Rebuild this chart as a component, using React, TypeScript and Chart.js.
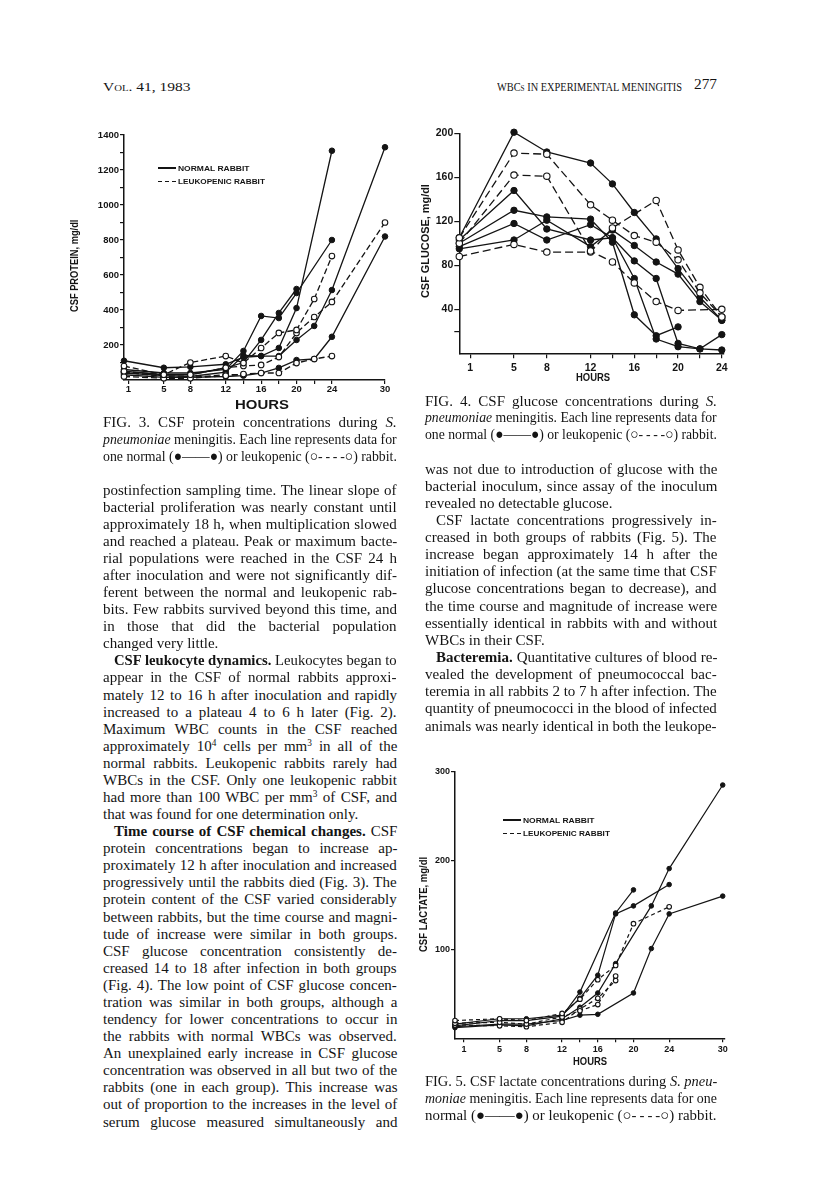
import React, { useEffect, useLayoutEffect, useRef, useState } from 'react';
import { Chart, registerables } from 'chart.js';

Chart.register(...registerables);

const INK = '#141414';
const SERIF = '"Liberation Serif", "Times New Roman", serif';
const SANS = '"Liberation Sans", Arial, sans-serif';

// ---------------- FIG. 3 : CSF protein (mg/dl) ----------------
const PROTEIN_HOURS = [0.5, 5, 8, 12, 14, 16, 18, 20, 22, 24, 30];
const PROTEIN_NORMAL_1 = [110, 70, 75, 90, 130, 137, 183, 411, null, 1310, null];
const PROTEIN_NORMAL_2 = [60, 40, 40, 60, 166, 366, 354, 497, null, 800, null];
const PROTEIN_NORMAL_3 = [50, 30, 30, 70, 100, 229, 383, 520, null, null, null];
const PROTEIN_NORMAL_4 = [40, 25, 20, 45, 140, 137, 137, 229, 309, 514, 1330];
const PROTEIN_NORMAL_5 = [30, 15, 15, 20, 25, 40, 69, 114, 120, 247, 820];
const PROTEIN_LEUKO_1 = [80, 30, 100, 137, 97, 183, 269, 286, 463, 708, null];
const PROTEIN_LEUKO_2 = [50, 30, 30, 70, 80, 86, 131, 269, 360, 446, 900];
const PROTEIN_LEUKO_3 = [20, 10, 10, 25, 34, 40, 40, 97, 120, 137, null];
const PROTEIN_LEUKO_4 = [45, 20, 15, 30, 30, null, null, null, null, null, null];
const PROTEIN_X_TICKS = [1, 5, 8, 12, 14, 16, 18, 20, 22, 24, 30];
const PROTEIN_X_LABELS = [1, 5, 8, 12, 16, 20, 24, 30];
const PROTEIN_Y_TICKS = [100, 200, 300, 400, 500, 600, 700, 800, 900, 1000, 1100, 1200, 1300, 1400];
const PROTEIN_Y_LABELS = [200, 400, 600, 800, 1000, 1200, 1400];

// ---------------- FIG. 4 : CSF glucose (mg/dl) ----------------
const GLUCOSE_HOURS = [0, 5, 8, 12, 14, 16, 18, 20, 22, 24];
const GLUCOSE_NORMAL_1 = [105, 201, 183, 173, 154, 128, 104, 77, 51, 30];
const GLUCOSE_NORMAL_2 = [103, 148, 113, 103, 105, 84, 68, 9, 4, 17];
const GLUCOSE_NORMAL_3 = [100, 130, 124, 122, 101, 35, 16, 24, null, null];
const GLUCOSE_NORMAL_4 = [97, 118, 103, 117, 105, 68, 13, 6, 4, 3];
const GLUCOSE_NORMAL_5 = [95, 103, 121, 97, 112, 98, 83, 72, 47, 30];
const GLUCOSE_LEUKO_1 = [105, 182, 181, 135, 121, 107, 101, 85, 55, 33];
const GLUCOSE_LEUKO_2 = [100, 162, 161, 93, 83, 64, 47, 39, null, 40];
const GLUCOSE_LEUKO_3 = [88, 99, 92, 92, 114, null, 139, 94, 60, 33];
const GLUCOSE_X_TICKS = [1, 5, 8, 12, 14, 16, 18, 20, 22, 24];
const GLUCOSE_X_LABELS = [1, 5, 8, 12, 16, 20, 24];
const GLUCOSE_Y_TICKS = [20, 40, 80, 120, 160, 200];
const GLUCOSE_Y_LABELS = [40, 80, 120, 160, 200];

// ---------------- FIG. 5 : CSF lactate (mg/dl) ----------------
const LACTATE_HOURS = [0, 5, 8, 12, 14, 16, 18, 20, 22, 24, 30];
const LACTATE_NORMAL_1 = [14, 20, 20, 25, 52, null, 141, 167, null, null, null];
const LACTATE_NORMAL_2 = [16, 22, 22, 26, 45, 71, 140, 149, null, 173, null];
const LACTATE_NORMAL_3 = [12, 15, 14, 22, 35, 51, 84, null, 149, 191, 285];
const LACTATE_NORMAL_4 = [13, 16, 16, 20, 26, 27, null, 51, 101, 140, 160];
const LACTATE_LEUKO_1 = [20, 22, 20, 28, 44, 66, 82, 129, null, 148, null];
const LACTATE_LEUKO_2 = [17, 18, 16, 24, 31, 38, 70, null, null, null, null];
const LACTATE_LEUKO_3 = [15, 14, 13, 18, 33, 45, 65, null, null, null, null];
const LACTATE_X_TICKS = [1, 5, 8, 12, 14, 16, 18, 20, 24, 30];
const LACTATE_X_LABELS = [1, 5, 8, 12, 16, 20, 24, 30];
const LACTATE_Y_TICKS = [100, 200, 300];
const LACTATE_Y_LABELS = [100, 200, 300];

// ---------------- page text ----------------
const LEFT_LINES = [
  'postinfection sampling time. The linear slope of',
  'bacterial proliferation was nearly constant until',
  'approximately 18 h, when multiplication slowed',
  'and reached a plateau. Peak or maximum bacte-',
  'rial populations were reached in the CSF 24 h',
  'after inoculation and were not significantly dif-',
  'ferent between the normal and leukopenic rab-',
  'bits. Few rabbits survived beyond this time, and',
  'in those that did the bacterial population',
  'changed very little.|',
  '>*CSF leukocyte dynamics.* Leukocytes began to',
  'appear in the CSF of normal rabbits approxi-',
  'mately 12 to 16 h after inoculation and rapidly',
  'increased to a plateau 4 to 6 h later (Fig. 2).',
  'Maximum WBC counts in the CSF reached',
  'approximately 10^4^ cells per mm^3^ in all of the',
  'normal rabbits. Leukopenic rabbits rarely had',
  'WBCs in the CSF. Only one leukopenic rabbit',
  'had more than 100 WBC per mm^3^ of CSF, and',
  'that was found for one determination only.|',
  '>*Time course of CSF chemical changes.* CSF',
  'protein concentrations began to increase ap-',
  'proximately 12 h after inoculation and increased',
  'progressively until the rabbits died (Fig. 3). The',
  'protein content of the CSF varied considerably',
  'between rabbits, but the time course and magni-',
  'tude of increase were similar in both groups.',
  'CSF glucose concentration consistently de-',
  'creased 14 to 18 after infection in both groups',
  '(Fig. 4). The low point of CSF glucose concen-',
  'tration was similar in both groups, although a',
  'tendency for lower concentrations to occur in',
  'the rabbits with normal WBCs was observed.',
  'An unexplained early increase in CSF glucose',
  'concentration was observed in all but two of the',
  'rabbits (one in each group). This increase was',
  'out of proportion to the increases in the level of',
  'serum glucose measured simultaneously and',
];

const RIGHT_LINES = [
  'was not due to introduction of glucose with the',
  'bacterial inoculum, since assay of the inoculum',
  'revealed no detectable glucose.|',
  '>CSF lactate concentrations progressively in-',
  'creased in both groups of rabbits (Fig. 5). The',
  'increase began approximately 14 h after the',
  'initiation of infection (at the same time that CSF',
  'glucose concentrations began to decrease), and',
  'the time course and magnitude of increase were',
  'essentially identical in rabbits with and without',
  'WBCs in their CSF.|',
  '>*Bacteremia.* Quantitative cultures of blood re-',
  'vealed the development of pneumococcal bac-',
  'teremia in all rabbits 2 to 7 h after infection. The',
  'quantity of pneumococci in the blood of infected',
  'animals was nearly identical in both the leukope-',
];

const KEY = 'one normal (\u25CF\u2014\u2014\u25CF) or leukopenic (\u25CB-\u2009-\u2009-\u2009-\u25CB) rabbit.';
const FIG3_CAPTION = [
  'FIG. 3. CSF protein concentrations during _S._',
  '_pneumoniae_ meningitis. Each line represents data for',
  KEY,
];
const FIG4_CAPTION = [
  'FIG. 4. CSF glucose concentrations during _S._',
  '_pneumoniae_ meningitis. Each line represents data for',
  KEY,
];
const FIG5_CAPTION = [
  'FIG. 5. CSF lactate concentrations during _S. pneu-_',
  '_moniae_ meningitis. Each line represents data for one',
  'normal (\u25CF\u2014\u2014\u25CF) or leukopenic (\u25CB-\u2009-\u2009-\u2009-\u25CB) rabbit.|',
];

// ---------------- helpers ----------------
type Seg = { t: string; b: boolean; i: boolean; sup: boolean };
function parse(s: string): Seg[] {
  const out: Seg[] = [];
  let b = false, i = false, sup = false, cur = '';
  const push = () => { if (cur) out.push({ t: cur, b, i, sup }); cur = ''; };
  for (const ch of s) {
    if (ch === '*') { push(); b = !b; }
    else if (ch === '_') { push(); i = !i; }
    else if (ch === '^') { push(); sup = !sup; }
    else cur += ch;
  }
  push();
  return out;
}

type TLProps = {
  x: number; y: number; w: number; text: string; mode?: 'justify' | 'left' | 'fit';
  size?: number; family?: string; weight?: number; indent?: number; variant?: string; capsOffset?: boolean;
};
function TextLine({ x, y, w, text, mode = 'justify', size = 15, family = SERIF, weight = 400, indent = 0, variant, capsOffset }: TLProps) {
  const ref = useRef<HTMLSpanElement>(null);
  const [adj, setAdj] = useState<{ ws: number; sc: number } | null>(null);
  useLayoutEffect(() => {
    const el = ref.current;
    if (!el) return;
    const nat = el.offsetWidth;
    const avail = w - indent;
    const spaces = (el.textContent || '').split(' ').length - 1;
    if (!nat) { setAdj({ ws: 0, sc: 1 }); return; }
    if (mode === 'fit') setAdj({ ws: 0, sc: avail / nat });
    else if (nat > avail) setAdj({ ws: 0, sc: avail / nat });
    else if (mode === 'justify' && spaces > 0) setAdj({ ws: (avail - nat) / spaces, sc: 1 });
    else setAdj({ ws: 0, sc: 1 });
  }, [text, w, mode, indent]);
  const segs = parse(text);
  const off = capsOffset ? 0.56 : 0.63;
  return (
    <div style={{ position: 'absolute', left: x + indent, top: y - size * off, whiteSpace: 'nowrap', lineHeight: `${size * 1.15}px`, fontSize: size, fontFamily: family, fontWeight: weight, fontVariant: variant as any, color: INK }}>
      <span ref={ref} style={{ display: 'inline-block', wordSpacing: adj ? adj.ws : 0, transform: adj && Math.abs(adj.sc - 1) > 0.001 ? `scaleX(${adj.sc})` : undefined, transformOrigin: '0 0' }}>
        {segs.map((s, k) => (
          <span key={k} style={{ fontWeight: s.b ? 700 : undefined, fontStyle: s.i ? 'italic' : undefined, fontSize: s.sup ? '0.62em' : undefined, verticalAlign: s.sup ? '0.55em' : undefined, lineHeight: s.sup ? 0 : undefined }}>{s.t}</span>
        ))}
      </span>
    </div>
  );
}

function Column({ lines, x, y0, step, w, indent = 11 }: { lines: string[]; x: number; y0: number; step: number; w: number; indent?: number }) {
  return (
    <>
      {lines.map((raw, k) => {
        let t = raw;
        let ind = 0;
        let mode: 'justify' | 'left' = 'justify';
        if (t.startsWith('>')) { t = t.slice(1); ind = indent; }
        if (t.endsWith('|')) { t = t.slice(0, -1); mode = 'left'; }
        return <TextLine key={k} x={x} y={y0 + k * step} w={w} text={t} mode={mode} indent={ind} />;
      })}
    </>
  );
}

function RotLabel({ cx, cy, len, text, size }: { cx: number; cy: number; len: number; text: string; size: number }) {
  return (
    <div style={{ position: 'absolute', left: cx, top: cy, width: 0, height: 0, transform: 'rotate(-90deg)', transformOrigin: '0 0' }}>
      <TextLine x={-len / 2} y={0} w={len} text={text} mode="fit" size={size} family={SANS} weight={700} capsOffset />
    </div>
  );
}

function Legend({ x, y, textW1, textW2 }: { x: number; y: number; textW1: number; textW2: number }) {
  return (
    <>
      <div style={{ position: 'absolute', left: x, top: y - 0.75, width: 18, height: 1.5, background: INK }} />
      <div style={{ position: 'absolute', left: x, top: y + 12.75, width: 18, height: 1.5, background: `repeating-linear-gradient(90deg, ${INK} 0 4px, transparent 4px 7px)` }} />
      <TextLine x={x + 20} y={y} w={textW1} text="NORMAL RABBIT" mode="fit" size={8} family={SANS} weight={900} capsOffset />
      <TextLine x={x + 20} y={y + 13.5} w={textW2} text="LEUKOPENIC RABBIT" mode="fit" size={8} family={SANS} weight={900} capsOffset />
    </>
  );
}

// ---------------- chart building ----------------
type Spec = {
  left: number; top: number; w: number; h: number;
  pad: { left: number; top: number; right: number; bottom: number };
  yW: number; xH: number;
  xMin: number; xMax: number; yMax: number;
  hours: number[]; normal: (number | null)[][]; leuko: (number | null)[][];
  xTicks: number[]; xLabels: number[]; yTicks: number[]; yLabels: number[];
  dash: number[]; radius: number; lw: number; font: number; xPad: number; tickLen: number;
};

function toPoints(hours: number[], vals: (number | null)[]) {
  const pts: { x: number; y: number }[] = [];
  hours.forEach((h, i) => { const v = vals[i]; if (v !== null && v !== undefined) pts.push({ x: h, y: v }); });
  return pts;
}

function buildConfig(s: Spec): any {
  const ds = (vals: (number | null)[], leuko: boolean) => ({
    data: toPoints(s.hours, vals),
    showLine: true,
    spanGaps: true,
    tension: 0,
    fill: false,
    clip: false,
    borderColor: INK,
    borderWidth: s.lw,
    borderDash: leuko ? s.dash : [],
    pointRadius: s.radius,
    pointBorderWidth: leuko ? 1.1 : 1,
    pointBackgroundColor: leuko ? '#ffffff' : INK,
    pointBorderColor: INK,
  });
  const tickFont = { family: SANS, size: s.font, weight: 'bold' as const };
  return {
    type: 'line',
    data: { datasets: [...s.leuko.map(v => ds(v, true)), ...s.normal.map(v => ds(v, false))] },
    options: {
      animation: false,
      responsive: false,
      maintainAspectRatio: false,
      events: [],
      layout: { padding: s.pad },
      plugins: { legend: { display: false }, tooltip: { enabled: false }, title: { display: false } },
      scales: {
        x: {
          type: 'linear', min: s.xMin, max: s.xMax,
          afterBuildTicks: (sc: any) => { sc.ticks = s.xTicks.map(v => ({ value: v })); },
          afterFit: (sc: any) => { sc.height = s.xH; },
          ticks: {
            autoSkip: false, maxRotation: 0, minRotation: 0, padding: s.xPad, color: INK, font: tickFont,
            callback: (v: any) => (s.xLabels.includes(Number(v)) ? String(v) : ''),
          },
          grid: { display: true, drawOnChartArea: false, drawTicks: true, tickLength: s.tickLen, color: INK, lineWidth: 1.2 },
          border: { display: true, color: INK, width: 1.5 },
        },
        y: {
          type: 'linear', min: 0, max: s.yMax,
          afterBuildTicks: (sc: any) => { sc.ticks = s.yTicks.map(v => ({ value: v })); },
          afterFit: (sc: any) => { sc.width = s.yW; },
          ticks: {
            autoSkip: false, padding: 1, color: INK, font: tickFont,
            callback: (v: any) => (s.yLabels.includes(Number(v)) ? String(v) : ''),
          },
          grid: { display: true, drawOnChartArea: false, drawTicks: true, tickLength: s.tickLen, color: INK, lineWidth: 1.2 },
          border: { display: true, color: INK, width: 1.5 },
        },
      },
    },
  };
}

function LineChart({ spec }: { spec: Spec }) {
  const ref = useRef<HTMLCanvasElement>(null);
  useEffect(() => {
    const chart = new Chart(ref.current as HTMLCanvasElement, buildConfig(spec));
    return () => chart.destroy();
  }, [spec]);
  return (
    <canvas ref={ref} width={spec.w} height={spec.h}
      style={{ position: 'absolute', left: spec.left, top: spec.top, width: spec.w, height: spec.h }} />
  );
}

const PROTEIN_SPEC: Spec = {
  left: 60, top: 125, w: 340, h: 290,
  pad: { left: 24, top: 10, right: 15, bottom: 10 }, yW: 40, xH: 25,
  xMin: 0.5, xMax: 30, yMax: 1400,
  hours: PROTEIN_HOURS,
  normal: [PROTEIN_NORMAL_1, PROTEIN_NORMAL_2, PROTEIN_NORMAL_3, PROTEIN_NORMAL_4, PROTEIN_NORMAL_5],
  leuko: [PROTEIN_LEUKO_1, PROTEIN_LEUKO_2, PROTEIN_LEUKO_3, PROTEIN_LEUKO_4],
  xTicks: PROTEIN_X_TICKS, xLabels: PROTEIN_X_LABELS, yTicks: PROTEIN_Y_TICKS, yLabels: PROTEIN_Y_LABELS,
  dash: [6, 3], radius: 2.8, lw: 1.3, font: 9.5, xPad: 0, tickLen: 4,
};

const GLUCOSE_SPEC: Spec = {
  left: 420, top: 120, w: 320, h: 260,
  pad: { left: 9.3, top: 13.3, right: 16, bottom: 4.7 }, yW: 30, xH: 22,
  xMin: 0, xMax: 24.2, yMax: 200,
  hours: GLUCOSE_HOURS,
  normal: [GLUCOSE_NORMAL_1, GLUCOSE_NORMAL_2, GLUCOSE_NORMAL_3, GLUCOSE_NORMAL_4, GLUCOSE_NORMAL_5],
  leuko: [GLUCOSE_LEUKO_1, GLUCOSE_LEUKO_2, GLUCOSE_LEUKO_3],
  xTicks: GLUCOSE_X_TICKS, xLabels: GLUCOSE_X_LABELS, yTicks: GLUCOSE_Y_TICKS, yLabels: GLUCOSE_Y_LABELS,
  dash: [8, 4], radius: 3.2, lw: 1.3, font: 10.5, xPad: 3.5, tickLen: 5,
};

const LACTATE_SPEC: Spec = {
  left: 420, top: 760, w: 320, h: 300,
  pad: { left: 5, top: 11.7, right: 15.5, bottom: 3.7 }, yW: 30, xH: 18,
  xMin: 0, xMax: 30.2, yMax: 300,
  hours: LACTATE_HOURS,
  normal: [LACTATE_NORMAL_1, LACTATE_NORMAL_2, LACTATE_NORMAL_3, LACTATE_NORMAL_4],
  leuko: [LACTATE_LEUKO_1, LACTATE_LEUKO_2, LACTATE_LEUKO_3],
  xTicks: LACTATE_X_TICKS, xLabels: LACTATE_X_LABELS, yTicks: LACTATE_Y_TICKS, yLabels: LACTATE_Y_LABELS,
  dash: [4, 3], radius: 2.3, lw: 1.2, font: 9, xPad: 1.5, tickLen: 4,
};

export default function App() {
  return (
    <div style={{ position: 'absolute', left: 0, top: 0, width: 816, height: 1196, background: '#ffffff', overflow: 'hidden', color: INK }}>
      {/* running head */}
      <TextLine x={103} y={88} w={87} text="Vol. 41, 1983" mode="fit" size={13} variant="small-caps" />
      <TextLine x={497} y={88} w={185} text="WBCs IN EXPERIMENTAL MENINGITIS" mode="fit" size={13} variant="small-caps" />
      <TextLine x={694} y={86} w={23} text="277" mode="fit" size={14} />

      {/* Fig. 3 */}
      <LineChart spec={PROTEIN_SPEC} />
      <RotLabel cx={75} cy={266} len={92} text="CSF PROTEIN, mg/dl" size={10} />
      <TextLine x={235} y={405} w={54} text="HOURS" mode="fit" size={13} family={SANS} weight={700} capsOffset />
      <Legend x={158} y={168} textW1={71} textW2={87} />
      {FIG3_CAPTION.map((t, k) => <TextLine key={'c3' + k} x={103} y={423 + k * 17} w={294} text={t} />)}

      {/* Fig. 4 */}
      <LineChart spec={GLUCOSE_SPEC} />
      <RotLabel cx={425} cy={241} len={114} text="CSF GLUCOSE, mg/dl" size={11} />
      <TextLine x={576} y={378} w={34} text="HOURS" mode="fit" size={10} family={SANS} weight={700} capsOffset />
      {FIG4_CAPTION.map((t, k) => <TextLine key={'c4' + k} x={425} y={402 + k * 16.5} w={292} text={t} />)}

      {/* body text */}
      <Column lines={LEFT_LINES} x={103} y0={491} step={17.08} w={294} />
      <Column lines={RIGHT_LINES} x={425} y0={470} step={17.13} w={292} />

      {/* Fig. 5 */}
      <LineChart spec={LACTATE_SPEC} />
      <RotLabel cx={424} cy={905} len={95} text="CSF LACTATE, mg/dl" size={10} />
      <TextLine x={573} y={1062} w={34} text="HOURS" mode="fit" size={10} family={SANS} weight={700} capsOffset />
      <Legend x={503} y={820} textW1={71} textW2={87} />
      {FIG5_CAPTION.map((t, k) => {
        const last = t.endsWith('|');
        return <TextLine key={'c5' + k} x={425} y={1082 + k * 17} w={292} text={last ? t.slice(0, -1) : t} mode={last ? 'left' : 'justify'} />;
      })}
    </div>
  );
}
